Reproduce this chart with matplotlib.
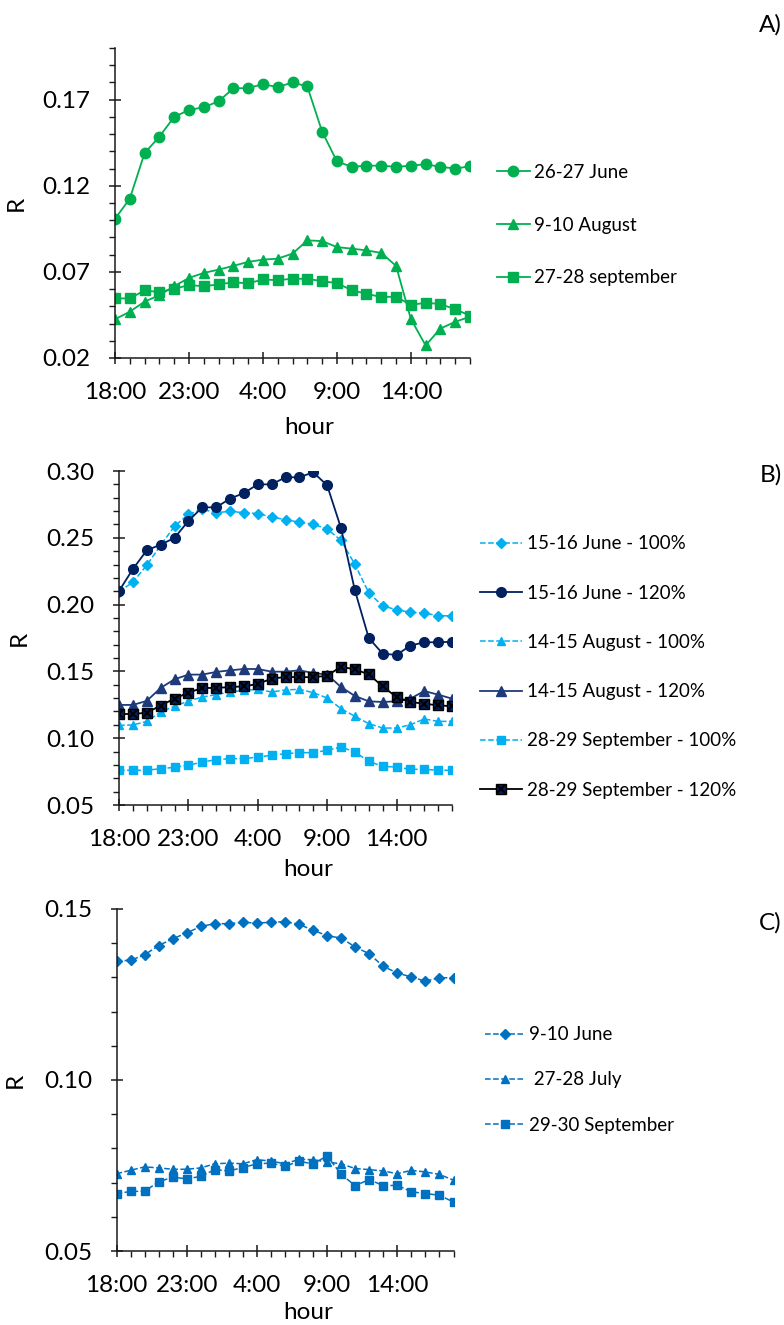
import numpy as np
import matplotlib
matplotlib.use("Agg")
import matplotlib.pyplot as plt
from matplotlib.ticker import MultipleLocator, FixedLocator
from matplotlib.legend_handler import HandlerTuple

plt.rcParams['font.family'] = ['Lato', 'DejaVu Sans']

# =====================================================
# DATA
# =====================================================

hours = ["18:00", "19:00", "20:00", "21:00", "22:00", "23:00", "0:00",
         "1:00", "2:00", "3:00", "4:00", "5:00", "6:00", "7:00", "8:00",
         "9:00", "10:00", "11:00", "12:00", "13:00", "14:00", "15:00",
         "16:00", "17:00", "18:00"]
tick_labels = ["18:00", "23:00", "4:00", "9:00", "14:00"]

# panel A
a_june = [0.1008, 0.1125, 0.139, 0.1485, 0.160, 0.164, 0.1656, 0.169,
          0.1766, 0.1767, 0.179, 0.1773, 0.180, 0.1777, 0.1515, 0.1342,
          0.131, 0.1317, 0.1317, 0.131, 0.1317, 0.1325, 0.131, 0.130, 0.1313]
a_aug = [0.0425, 0.0469, 0.0527, 0.0565, 0.0617, 0.0665, 0.0694, 0.0713,
         0.0735, 0.0758, 0.0771, 0.0777, 0.0806, 0.0883, 0.0879, 0.0844,
         0.0835, 0.0825, 0.081, 0.0735, 0.0427, 0.0273, 0.0371, 0.041, 0.044]
a_sep = [0.0546, 0.0546, 0.0592, 0.0583, 0.0602, 0.0623, 0.0617, 0.0627,
         0.064, 0.0633, 0.0656, 0.0652, 0.066, 0.066, 0.0646, 0.0635,
         0.0594, 0.0573, 0.0554, 0.0556, 0.0508, 0.0521, 0.0513, 0.0483, 0.0446]

# panel B
b_june100 = [0.2094, 0.2169, 0.2294, 0.2444, 0.2586, 0.2676, 0.2713, 0.2688,
             0.2698, 0.2688, 0.2681, 0.2656, 0.2636, 0.2616, 0.2601, 0.2566,
             0.2481, 0.2301, 0.2089, 0.199, 0.1962, 0.1942, 0.1937, 0.1917, 0.1915]
b_june120 = [0.2102, 0.2266, 0.2406, 0.2449, 0.2499, 0.2626, 0.2728, 0.2728,
             0.2793, 0.2835, 0.290, 0.290, 0.2953, 0.2953, 0.299, 0.2893,
             0.2573, 0.2107, 0.175, 0.1633, 0.1623, 0.1693, 0.1718, 0.1718, 0.1722]
b_aug100 = [0.1096, 0.1099, 0.1126, 0.1196, 0.1239, 0.1278, 0.1308, 0.1326,
            0.1346, 0.1358, 0.1366, 0.1346, 0.1361, 0.1366, 0.1341, 0.1301,
            0.1221, 0.1164, 0.1109, 0.1076, 0.1076, 0.1101, 0.1144, 0.1126, 0.1126]
b_aug120 = [0.1249, 0.1249, 0.1279, 0.1376, 0.1441, 0.1476, 0.1476, 0.1496,
            0.1508, 0.1518, 0.1518, 0.1498, 0.1498, 0.1508, 0.1488, 0.1476,
            0.1383, 0.1316, 0.1276, 0.1271, 0.1276, 0.1296, 0.1353, 0.1326, 0.1296]
b_sep100 = [0.076, 0.076, 0.076, 0.0772, 0.0782, 0.0797, 0.0822, 0.0839,
            0.0847, 0.0847, 0.0859, 0.0872, 0.0884, 0.0892, 0.0892, 0.0909,
            0.0934, 0.0897, 0.0827, 0.0789, 0.0784, 0.0767, 0.0767, 0.076, 0.076]
b_sep120 = [0.1181, 0.1181, 0.1191, 0.1244, 0.1296, 0.1341, 0.1376, 0.1376,
            0.1383, 0.1388, 0.1406, 0.1446, 0.1458, 0.1458, 0.1456, 0.1468,
            0.1535, 0.1515, 0.1478, 0.1388, 0.1308, 0.1271, 0.1258, 0.1246, 0.1239]

# panel C
c_june = [0.1348, 0.135, 0.1366, 0.1393, 0.1413, 0.143, 0.1449, 0.1457,
          0.1457, 0.1461, 0.1459, 0.1461, 0.1463, 0.1455, 0.1438, 0.1422,
          0.1415, 0.1389, 0.1369, 0.1332, 0.1313, 0.1301, 0.1289, 0.1299, 0.1299]
c_july = [0.0726, 0.0736, 0.0746, 0.0743, 0.0739, 0.0739, 0.0743, 0.0755,
          0.0757, 0.0755, 0.0767, 0.0763, 0.0755, 0.0768, 0.0767, 0.076,
          0.0755, 0.0741, 0.0738, 0.0734, 0.0726, 0.0736, 0.0731, 0.0724, 0.0707]
c_sep = [0.0668, 0.0674, 0.0675, 0.0702, 0.0716, 0.0711, 0.0718, 0.0738,
         0.0734, 0.0744, 0.0755, 0.0757, 0.0748, 0.0762, 0.0755, 0.0778,
         0.0724, 0.0691, 0.0709, 0.0691, 0.0692, 0.0673, 0.0668, 0.0663, 0.0643]

GREEN = "#00B050"
LIGHT = "#00B0F0"
NAVY = "#002060"
NAVY2 = "#1F3A7A"
BLUE = "#0070C0"

W, H = 784, 1325
x = np.arange(len(hours))


def box(l, t, r, b):
    return [l / W, 1 - b / H, (r - l) / W, (b - t) / H]


def style_axis(ax, ylo, yhi, ymajor, xlab, ylab_x):
    for s in ["top", "right"]:
        ax.spines[s].set_visible(False)
    for s in ["left", "bottom"]:
        ax.spines[s].set_linewidth(1.1)
        ax.spines[s].set_color("#1a1a1a")
    ax.set_xlim(0, len(hours) - 1)
    ax.set_ylim(ylo, yhi)
    ax.xaxis.set_major_locator(FixedLocator([0, 5, 10, 15, 20]))
    ax.set_xticklabels(tick_labels)
    ax.xaxis.set_minor_locator(MultipleLocator(1))
    ax.yaxis.set_major_locator(FixedLocator(np.arange(ylo, yhi + 1e-9, ymajor)))
    ax.yaxis.set_minor_locator(MultipleLocator(0.01))
    ax.yaxis.set_major_formatter(plt.FormatStrFormatter("%.2f"))
    ax.tick_params(which="major", direction="inout", length=9, width=1.1,
                   labelsize=17.5, pad=13, color="#1a1a1a")
    ax.tick_params(which="minor", direction="out", length=4, width=1.0,
                   color="#1a1a1a")
    ax.set_xlabel("hour", fontsize=17.5)
    ax.set_ylabel("R", fontsize=17.5)
    ax.xaxis.set_label_coords(xlab[0], xlab[1])
    ax.yaxis.set_label_coords(ylab_x, 0.5)


def legend(ax, handles, labels, lx, ly, hl, ls):
    ax.legend(handles, labels, loc="center left",
              bbox_to_anchor=(lx / W, 1 - ly / H),
              bbox_transform=fig.transFigure, frameon=False, fontsize=13.5,
              handlelength=hl, handletextpad=0.25, labelspacing=ls,
              borderpad=0, borderaxespad=0,
              handler_map={tuple: HandlerTuple(ndivide=1)})


fig = plt.figure(figsize=(W / 100, H / 100), dpi=100)

# =====================================================
# PANEL A
# =====================================================

axA = fig.add_axes(box(115, 48, 470, 358))
axA.plot(x, a_june, "-o", color=GREEN, lw=1.3, ms=7.5, label="26-27 June")
axA.plot(x, a_aug, "-^", color=GREEN, lw=1.3, ms=7.5, label="9-10 August")
axA.plot(x, a_sep, "-s", color=GREEN, lw=1.3, ms=7, label="27-28 september")
style_axis(axA, 0.02, 0.20, 0.05, (0.546, -0.19), -0.248)
h, l = axA.get_legend_handles_labels()
legend(axA, h, l, 497, 225, 1.75, 1.9)
fig.text(782 / W, 1 - 25 / H, "A)", ha="right", va="center", fontsize=17.5)

# =====================================================
# PANEL B
# =====================================================

axB = fig.add_axes(box(119, 471, 452, 805))
axB.plot(x, b_june100, "--D", color=LIGHT, lw=1.1, ms=5.5, label="15-16 June - 100%")
axB.plot(x, b_june120, "-o", color=NAVY, lw=1.3, ms=7, label="15-16 June - 120%")
axB.plot(x, b_aug100, "--^", color=LIGHT, lw=1.1, ms=6, label="14-15 August - 100%")
axB.plot(x, b_aug120, "-^", color=NAVY2, lw=1.3, ms=7, label="14-15 August - 120%")
axB.plot(x, b_sep100, "--s", color=LIGHT, lw=1.1, ms=6, label="28-29 September - 100%")
l1, = axB.plot(x, b_sep120, "-s", color="black", lw=1.3, ms=7.5,
               mfc=NAVY, mec="black")
l2, = axB.plot(x, b_sep120, "x", color="black", ms=6, mew=1.5)
style_axis(axB, 0.05, 0.30, 0.05, (0.568, -0.162), -0.267)
h, l = axB.get_legend_handles_labels()
h.append((l1, l2))
l.append("28-29 September - 120%")
legend(axB, h, l, 480, 667, 2.25, 1.72)
fig.text(782 / W, 1 - 475 / H, "B)", ha="right", va="center", fontsize=17.5)

# =====================================================
# PANEL C
# =====================================================

axC = fig.add_axes(box(116.5, 909, 453.5, 1251))
axC.plot(x, c_june, "--D", color=BLUE, lw=1.1, ms=5.5, label="9-10 June")
axC.plot(x, c_july, "--^", color=BLUE, lw=1.1, ms=6, label=" 27-28 July")
axC.plot(x, c_sep, "--s", color=BLUE, lw=1.1, ms=6, label="29-30 September")
style_axis(axC, 0.05, 0.15, 0.05, (0.57, -0.148), -0.269)
h, l = axC.get_legend_handles_labels()
legend(axC, h, l, 485, 1080, 2.1, 1.51)
fig.text(782 / W, 1 - 923 / H, "C)", ha="right", va="center", fontsize=17.5)

fig.savefig("out.png", dpi=100)
